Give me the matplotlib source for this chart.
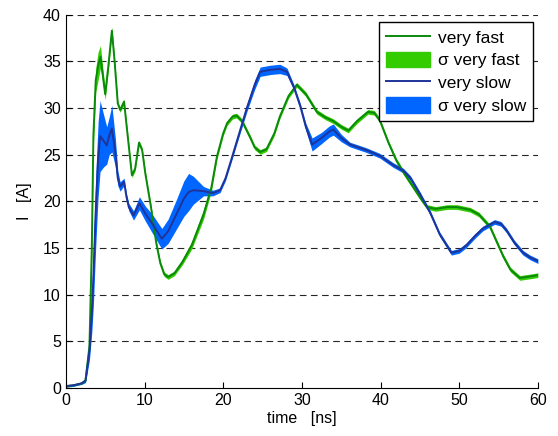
import numpy as np
import matplotlib
matplotlib.use('Agg')
import matplotlib.pyplot as plt
from matplotlib.patches import Patch
from matplotlib.lines import Line2D

plt.rcParams['font.family'] = ['Liberation Sans', 'DejaVu Sans']

# very fast: time [ns], current [A], sigma [A]
fast_t = [0, 1, 2, 2.5, 3.0, 3.3, 3.5, 3.8, 4.1, 4.4,
          4.7, 5.0, 5.4, 5.85, 6.2, 6.6, 6.9, 7.4, 7.8, 8.4,
          8.8, 9.3, 9.7, 10.1, 10.8, 11.5, 12, 12.5, 13, 13.8,
          14.8, 16, 17.5, 18.5, 19.2, 20, 20.5, 21.2, 21.7, 22.4,
          23.4, 24, 24.7, 25.5, 26.5, 27.2, 28.3, 29.35, 30.5, 31.9,
          33, 34, 35, 35.9, 37, 38.4, 39.2, 39.9, 41, 42,
          43, 44.1, 45.2, 45.9, 47, 48.5, 49.7, 51.4, 52.5, 53.9,
          54.8, 55.6, 56.5, 57.7, 58.5, 59.3, 60]
fast_I = [0.2, 0.3, 0.5, 0.8, 4.5, 15, 27, 33, 34.5, 35.5,
          33.5, 31.5, 34.5, 38.3, 35, 30.5, 29.8, 30.7, 27.5, 22.8,
          23.5, 26.3, 25.5, 23, 19.5, 15.5, 13.4, 12.2, 11.9, 12.3,
          13.5, 15.3, 18.6, 21.5, 24.8, 27.3, 28.4, 29.1, 29.2, 28.6,
          26.9, 25.8, 25.3, 25.6, 27.3, 29.1, 31.3, 32.5, 31.5, 29.6,
          29.0, 28.6, 28.0, 27.6, 28.6, 29.6, 29.5, 28.7, 26.3, 24.4,
          23, 21.6, 20.2, 19.4, 19.2, 19.4, 19.4, 19.1, 18.6, 17.3,
          15.6, 14.1, 12.7, 11.8, 11.9, 12.0, 12.1]
fast_sigma = [0.1, 0.1, 0.1, 0.2, 0.5, 0.8, 1.0, 1.3, 1.5, 1.2,
              0.8, 0.6, 0.5, 0.4, 0.3, 0.25, 0.25, 0.25, 0.25, 0.25,
              0.25, 0.25, 0.25, 0.25, 0.25, 0.25, 0.25, 0.25, 0.25, 0.25,
              0.3, 0.4, 0.5, 0.4, 0.3, 0.25, 0.25, 0.25, 0.25, 0.25,
              0.25, 0.25, 0.25, 0.25, 0.25, 0.25, 0.25, 0.25, 0.25, 0.25,
              0.25, 0.25, 0.25, 0.25, 0.25, 0.25, 0.25, 0.25, 0.25, 0.25,
              0.25, 0.25, 0.25, 0.25, 0.25, 0.25, 0.25, 0.25, 0.25, 0.25,
              0.25, 0.25, 0.25, 0.25, 0.25, 0.25, 0.25]

# very slow
slow_t = [0, 1, 2, 2.5, 3.0, 3.3, 3.5, 3.8, 4.1, 4.35,
          4.8, 5.2, 5.5, 5.85, 6.3, 6.6, 6.9, 7.4, 7.7, 8.0,
          8.6, 9.35, 10.1, 11, 12.2, 13, 14.1, 15, 15.6, 16.2,
          17.5, 18.7, 19.6, 20.3, 21, 22, 23, 24, 24.7, 26,
          27.2, 28.1, 29, 29.8, 30.5, 31.3, 32.5, 33.5, 34, 35,
          36.1, 38.2, 39.9, 41.6, 42.9, 43.8, 45, 46.3, 47.5, 49,
          50, 50.9, 52, 53, 54.5, 55.3, 56, 57, 58.1, 59, 60]
slow_I = [0.2, 0.3, 0.5, 0.8, 4, 8, 11.9, 19, 24.5, 27,
          26.5, 26, 27, 27.8, 25.2, 22.5, 21.6, 22.1, 20.5, 19.4,
          18.5, 19.8, 18.7, 17.6, 16.0, 16.8, 18.7, 20.3, 21.0, 21.2,
          21.1, 20.9, 21.2, 22.5, 24.4, 27.2, 30, 32.5, 33.9, 34.1,
          34.2, 33.9, 32.2, 30.2, 28, 26.1, 26.8, 27.5, 27.7, 26.8,
          26.1, 25.5, 24.9, 23.9, 23.3, 22.5, 20.8, 18.8, 16.5, 14.5,
          14.7, 15.3, 16.3, 17.1, 17.8, 17.6, 16.9, 15.6, 14.5, 14.0, 13.6]
slow_sigma = [0.1, 0.1, 0.1, 0.2, 1.0, 2.0, 3.0, 3.8, 4.0, 3.8,
              2.8, 2.0, 2.0, 2.5, 1.5, 0.8, 0.5, 0.4, 0.4, 0.4,
              0.5, 0.7, 0.8, 1.0, 1.1, 1.3, 1.6, 1.9, 2.0, 1.5,
              0.5, 0.3, 0.25, 0.25, 0.25, 0.3, 0.4, 0.5, 0.5, 0.5,
              0.5, 0.4, 0.3, 0.3, 0.4, 0.7, 0.6, 0.6, 0.6, 0.4,
              0.25, 0.25, 0.25, 0.25, 0.25, 0.25, 0.25, 0.25, 0.25, 0.25,
              0.25, 0.25, 0.25, 0.25, 0.25, 0.25, 0.25, 0.25, 0.25, 0.25, 0.25]

c_fast = '#0a8a0a'
c_fast_band = '#33cc00'
c_slow = '#1f3399'
c_slow_band = '#0066ff'

fig = plt.figure(figsize=(5.58, 4.36), dpi=100)
ax = fig.add_axes([0.118, 0.110, 0.846, 0.856])

ft, fI, fs = np.array(fast_t), np.array(fast_I), np.array(fast_sigma)
st, sI, ss = np.array(slow_t), np.array(slow_I), np.array(slow_sigma)

ax.fill_between(ft, fI - fs, fI + fs, color=c_fast_band, lw=0)
ax.fill_between(st, sI - ss, sI + ss, color=c_slow_band, lw=0)
ax.plot(ft, fI, color=c_fast, lw=1.4)
ax.plot(st, sI, color=c_slow, lw=1.4)

ax.set_xlim(0, 60)
ax.set_ylim(0, 40)
ax.set_xticks(np.arange(0, 61, 10))
ax.set_yticks(np.arange(0, 41, 5))
for y in np.arange(5, 41, 5):
    ax.axhline(y, color='0.15', lw=0.8, linestyle=(0, (6, 4)), zorder=0)

ax.spines['top'].set_visible(False)
ax.spines['right'].set_visible(False)
ax.tick_params(direction='in', length=4, labelsize=11.5, top=False, right=False)
ax.set_xlabel('time   [ns]', fontsize=11.5, labelpad=2)
ax.set_ylabel('I   [A]', fontsize=11.5, labelpad=8)

handles = [Line2D([], [], color=c_fast, lw=1.4),
           Patch(color=c_fast_band),
           Line2D([], [], color=c_slow, lw=1.4),
           Patch(color=c_slow_band)]
labels = ['very fast', 'σ very fast', 'very slow', 'σ very slow']
leg = ax.legend(handles, labels, loc='upper right', bbox_to_anchor=(0.989, 0.981),
                fontsize=12.5, fancybox=False, framealpha=1, edgecolor='black',
                handlelength=2.5, handleheight=1.0, borderpad=0.4, labelspacing=0.35,
                handletextpad=0.45, borderaxespad=0.0)
leg.get_frame().set_linewidth(1.0)

fig.savefig('out.png', dpi=100)
